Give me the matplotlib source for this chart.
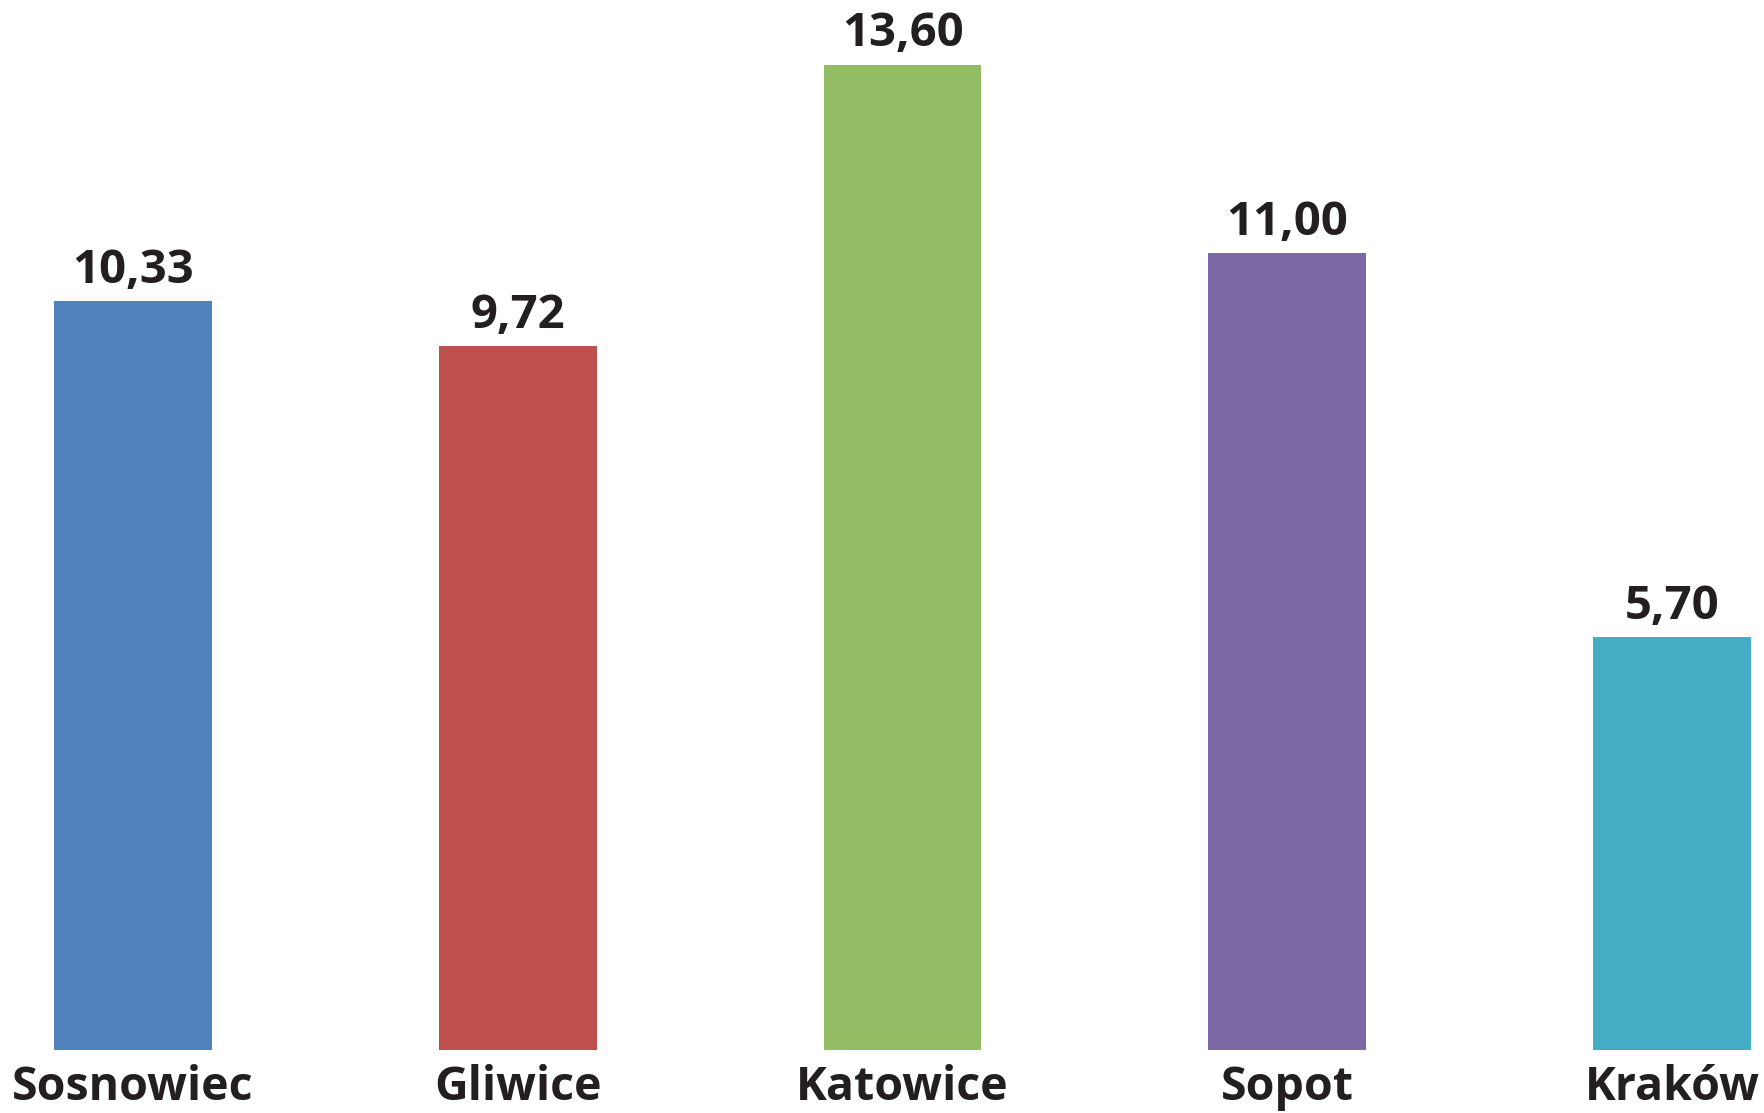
import matplotlib
matplotlib.use("Agg")
import matplotlib.pyplot as plt

cities = ["Sosnowiec", "Gliwice", "Katowice", "Sopot", "Kraków"]
values = [10.33, 9.72, 13.60, 11.00, 5.70]
colors = ["#4F81BD", "#C0504D", "#93BD64", "#7D68A6", "#44ADC5"]

plt.rcParams['font.family'] = ['Open Sans', 'DejaVu Sans']
txt_color = "#231F20"

fig = plt.figure(figsize=(17.65, 11.13), dpi=100)
ax = fig.add_axes([0, 0, 1, 1])

x = range(len(cities))
bars = ax.bar(x, values, width=0.41, color=colors)

# value labels above bars, comma as decimal separator
for b, v in zip(bars, values):
    ax.annotate("{:.2f}".format(v).replace(".", ","),
                (b.get_x() + b.get_width() / 2, b.get_height()),
                xytext=(0, 13), textcoords="offset points",
                ha="center", va="baseline", fontsize=34, fontweight="bold",
                color=txt_color)

# city names under bars
for i, c in enumerate(cities):
    ax.text(i, -0.69, c, ha="center", va="baseline", fontsize=33.5,
            fontweight="bold", color=txt_color)

ax.set_xlim(-0.346, 4.242)
ax.set_ylim(-0.867, 14.49)
ax.axis("off")

fig.savefig("out.png", dpi=100)
